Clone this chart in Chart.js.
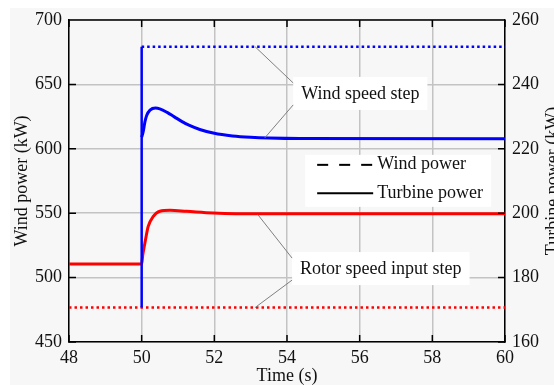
<!DOCTYPE html>
<html lang="en">
<head>
  <meta charset="UTF-8" />
  <title>Wind power and turbine power step response</title>
  <script src="https://cdn.jsdelivr.net/npm/chart.js"></script>
  <style>
    html, body { margin: 0; padding: 0; background: #fff; }
    canvas { display: block; }
  </style>
</head>
<body>
  <canvas id="powerChart" width="554" height="385"></canvas>

  <script>
    // axis ticks
    const timeTicks = [48, 50, 52, 54, 56, 58, 60];
    const windTicks = [450, 500, 550, 600, 650, 700];
    const turbineTicks = [160, 180, 200, 220, 240, 260];

    // wind power response (left axis, kW)
    const windTime  = [50.0, 50.04, 50.09, 50.14, 50.23, 50.38, 50.5, 50.7, 50.9, 51.1, 51.3, 51.6, 52.0, 52.5, 53.0, 53.5, 54.35, 60];
    const windPower = [609, 613, 621, 626, 630, 631.6, 631, 628.3, 624.8, 621.3, 618.3, 615, 612, 610, 608.9, 608.3, 607.9, 607.8];

    // turbine power response (right axis, kW)
    const turbineTime  = [48, 50.0, 50.03, 50.09, 50.18, 50.32, 50.5, 50.78, 51.24, 51.97, 53.16, 60];
    const turbinePower = [184.2, 184.2, 187.0, 190.8, 195.9, 199.0, 200.6, 200.9, 200.6, 200.1, 199.8, 199.8];

    // input steps
    const windStepTime = [50, 50, 60];
    const windStep     = [476.7, 679.3, 679.3];
    const rotorStepTime = [48, 60];
    const rotorStep     = [170.7, 170.7];

    const serif = '"Liberation Serif", "Times New Roman", serif';
    const pts = (xs, ys) => xs.map((x, i) => ({ x, y: ys[i] }));
    const setTicks = list => scale => { scale.ticks = list.map(v => ({ value: v })); };

    const frame = {
      id: 'frame',
      beforeDraw(chart) {
        const { ctx, width, height } = chart;
        ctx.save();
        ctx.fillStyle = '#fff';
        ctx.fillRect(0, 0, width, height);
        ctx.fillStyle = '#f7f7f7';
        ctx.fillRect(10, 8, width - 10, height - 8);
        ctx.restore();
      },
      afterDatasetsDraw(chart) {
        const { ctx } = chart;
        const x = chart.scales.x, y = chart.scales.y;
        const px = p => [x.getPixelForValue(p[0]), y.getPixelForValue(p[1])];

        // callout boxes with leader lines
        const notes = [
          { text: 'Wind speed step', at: [54.17, 643], from: [53.12, 679.3], to: [53.39, 608.5] },
          { text: 'Rotor speed input step', at: [54.14, 507], from: [53.2, 548.8], to: [53.12, 476.7] }
        ];
        ctx.save();
        ctx.font = '18px ' + serif;
        ctx.textBaseline = 'middle';
        notes.forEach(n => {
          const [left, cy] = px(n.at);
          const w = ctx.measureText(n.text).width + 16;
          const h = 33;
          ctx.fillStyle = '#fff';
          ctx.fillRect(left, cy - h / 2, w, h);
          ctx.fillStyle = '#111';
          ctx.fillText(n.text, left + 8, cy + 1);
          ctx.strokeStyle = '#808080';
          ctx.lineWidth = 1;
          const a = px(n.from), b = px(n.to);
          ctx.beginPath();
          ctx.moveTo(a[0], a[1]);
          ctx.lineTo(left, cy - h / 2 + 6);
          ctx.moveTo(left, cy + h / 2 - 5);
          ctx.lineTo(b[0], b[1]);
          ctx.stroke();
        });

        // legend
        const [lx, ly] = px([54.5, 595.3]);
        ctx.fillStyle = '#fff';
        ctx.fillRect(lx, ly, 186, 52);
        ctx.strokeStyle = '#000';
        ctx.lineWidth = 2;
        ctx.setLineDash([11, 11]);
        ctx.beginPath();
        ctx.moveTo(lx + 12, ly + 10);
        ctx.lineTo(lx + 67, ly + 10);
        ctx.stroke();
        ctx.setLineDash([]);
        ctx.beginPath();
        ctx.moveTo(lx + 12, ly + 38.5);
        ctx.lineTo(lx + 68, ly + 38.5);
        ctx.stroke();
        ctx.fillStyle = '#111';
        ctx.fillText('Wind power', lx + 72, ly + 9);
        ctx.fillText('Turbine power', lx + 72, ly + 38);
        ctx.restore();
      },
      afterDraw(chart) {
        const { ctx, chartArea: a } = chart;
        const { x, y, y1 } = chart.scales;
        ctx.save();
        ctx.strokeStyle = '#000';
        ctx.lineWidth = 1.5;
        ctx.beginPath();
        ctx.moveTo(a.left, a.top);
        ctx.lineTo(a.right, a.top);
        // inward tick marks
        timeTicks.forEach(v => {
          const p = x.getPixelForValue(v);
          ctx.moveTo(p, a.bottom); ctx.lineTo(p, a.bottom - 7);
          ctx.moveTo(p, a.top); ctx.lineTo(p, a.top + 7);
        });
        windTicks.forEach(v => {
          const p = y.getPixelForValue(v);
          ctx.moveTo(a.left, p); ctx.lineTo(a.left + 7, p);
        });
        turbineTicks.forEach(v => {
          const p = y1.getPixelForValue(v);
          ctx.moveTo(a.right, p); ctx.lineTo(a.right - 7, p);
        });
        ctx.stroke();

        // axis titles
        const midY = (a.top + a.bottom) / 2;
        ctx.fillStyle = '#111';
        ctx.font = '18px ' + serif;
        ctx.textAlign = 'center';
        ctx.textBaseline = 'middle';
        ctx.fillText('Time (s)', (a.left + a.right) / 2, a.bottom + 34);
        [['Wind power (kW)', 22], ['Turbine power (kW)', a.right + 48]].forEach(([t, cx]) => {
          ctx.save();
          ctx.translate(cx, midY);
          ctx.rotate(-Math.PI / 2);
          ctx.fillText(t, 0, 0);
          ctx.restore();
        });
        ctx.restore();
      }
    };

    const tickFont = { family: serif, size: 18 };

    new Chart(document.getElementById('powerChart'), {
      type: 'line',
      data: {
        datasets: [
          {
            label: 'Wind speed step',
            data: pts(windStepTime, windStep),
            yAxisID: 'y',
            borderColor: '#0000ff',
            borderWidth: 2.5,
            borderDash: [2.5, 3],
            segment: { borderDash: c => c.p0DataIndex === 0 ? [] : [2.5, 3] }
          },
          {
            label: 'Wind power',
            data: pts(windTime, windPower),
            yAxisID: 'y',
            borderColor: '#0000ff',
            borderWidth: 3,
            cubicInterpolationMode: 'monotone'
          },
          {
            label: 'Turbine power',
            data: pts(turbineTime, turbinePower),
            yAxisID: 'y1',
            borderColor: '#ff0000',
            borderWidth: 3,
            cubicInterpolationMode: 'monotone'
          },
          {
            label: 'Rotor speed input step',
            data: pts(rotorStepTime, rotorStep),
            yAxisID: 'y1',
            borderColor: '#ff0000',
            borderWidth: 2.5,
            borderDash: [2.5, 3]
          }
        ]
      },
      options: {
        responsive: false,
        animation: false,
        events: [],
        layout: { padding: { top: 20, left: 0, right: 0, bottom: 0 } },
        elements: { point: { radius: 0 }, line: { fill: false } },
        plugins: { legend: { display: false }, tooltip: { enabled: false } },
        scales: {
          x: {
            type: 'linear',
            min: 48, max: 60,
            afterBuildTicks: setTicks(timeTicks),
            afterFit: s => { s.height = 43; },
            grid: { color: '#c3c3c3', lineWidth: 1.5, drawTicks: false },
            border: { color: '#000', width: 1.5 },
            ticks: { padding: 5, color: '#111', font: tickFont, maxRotation: 0, autoSkip: false }
          },
          y: {
            position: 'left',
            min: 450, max: 700,
            afterBuildTicks: setTicks(windTicks),
            afterFit: s => { s.width = 69; },
            grid: { color: '#c3c3c3', lineWidth: 1.5, drawTicks: false },
            border: { color: '#000', width: 1.5 },
            ticks: { padding: 7, color: '#111', font: tickFont }
          },
          y1: {
            position: 'right',
            min: 160, max: 260,
            afterBuildTicks: setTicks(turbineTicks),
            afterFit: s => { s.width = 49; },
            grid: { display: false, drawTicks: false },
            border: { color: '#000', width: 1.5 },
            ticks: { padding: 7, color: '#111', font: tickFont }
          }
        }
      },
      plugins: [frame]
    });
  </script>
</body>
</html>
